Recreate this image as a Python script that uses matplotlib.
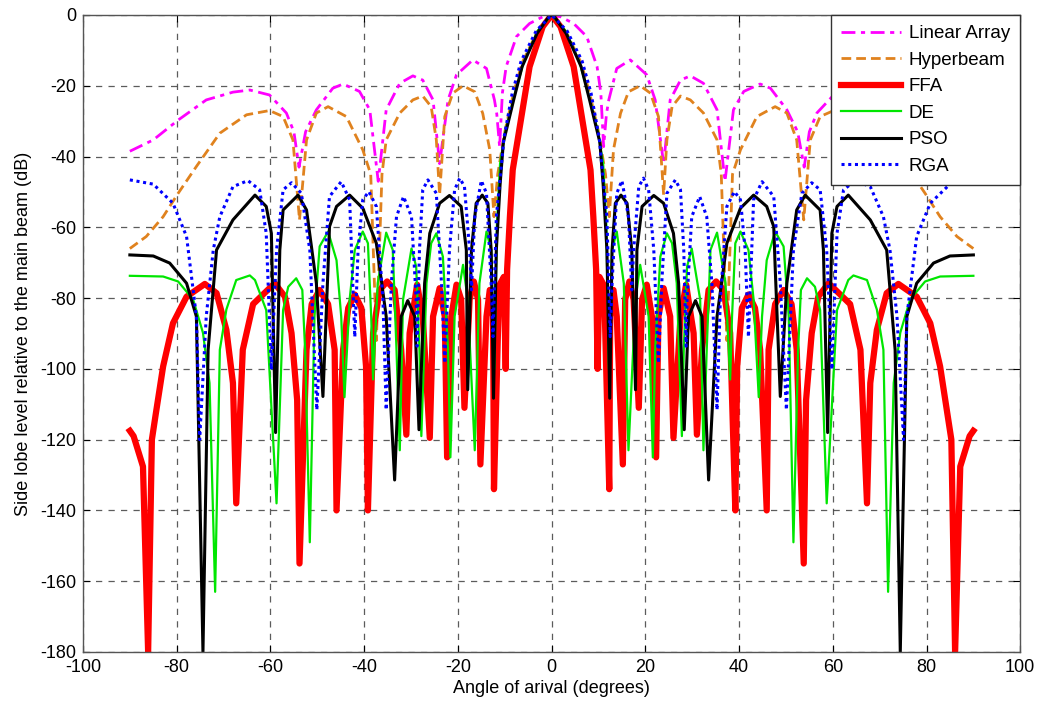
import numpy as np
import matplotlib.pyplot as plt

plt.rcParams['font.family'] = ['Liberation Sans', 'DejaVu Sans']
plt.rcParams['axes.unicode_minus'] = False

# half patterns (angle >= 0), the full pattern is symmetric about broadside
la_ang = [0, 1.9, 4.7, 7.5, 9.7, 10.5, 11.1, 11.7, 12.2, 13.9, 16.8, 20.3, 22.1, 23.9, 25.3,
          27.5, 29.6, 32.4, 35.3, 37.0, 38.8, 41.0, 44.5, 46.7, 50.2, 52.5, 53.9, 55.0, 56.6,
          60.2, 64.4, 68.0, 73.7, 79.7, 85.0, 90]
la_db = [0, -0.5, -2.4, -6.1, -14.6, -22, -37.2, -28, -24, -15.1, -12.7, -16.9, -24, -42, -24,
         -18.4, -17.2, -19.3, -26.8, -47, -26.8, -21.6, -19.5, -20.7, -26.8, -33, -43, -33, -27.7,
         -22.6, -21.2, -21.8, -24, -29.7, -35.3, -38.5]

hb_ang = [0, 3.1, 6.3, 8.1, 10.0, 11.5, 12.3, 13.2, 14.7, 16.4, 18.9, 21.1, 22.8, 23.9, 24.6,
          25.7, 27.5, 29.6, 32.4, 35.3, 36.2, 37.4, 38.6, 40.3, 43.8, 47.7, 50.2, 52.3, 53.8,
          55.2, 57.3, 60.2, 65.1, 70.8, 73.3, 75.8, 79.7, 82.9, 86.5, 90]
hb_db = [0, -4.8, -13.5, -22, -33, -45, -57, -38.1, -27.8, -21.7, -20, -22.1, -28.7, -50.8, -35.3,
         -25.9, -22.9, -24, -27.7, -35.3, -45, -92, -45, -38.1, -28.7, -25.9, -27.7, -35.3, -57.9,
         -35.3, -28.7, -27, -28.2, -33.4, -38.1, -42.8, -50.4, -57, -62.6, -66]

ffa_ang = [0, 1.9, 4.7, 8.3, 8.9, 9.5, 9.8, 10.2, 11.2, 12.3, 12.5, 13.2, 13.9, 15.2, 15.7, 16.6,
           17.5, 18.6, 19.3, 20.3, 21.4, 22.3, 22.8, 23.9, 25.3, 26.0, 27.5, 28.7, 30.3, 31.0,
           32.1, 33.5, 35.1, 36.7, 38.1, 39.2, 39.6, 40.6, 42.0, 43.4, 44.5, 45.9, 46.3, 47.7,
           49.5, 51.2, 52.3, 53.8, 54.3, 55.5, 56.9, 59.1, 63.7, 65.9, 67.3, 68.0, 69.4, 71.5,
           74.0, 77.9, 80.8, 82.9, 84.5, 85.3, 86.1, 87.2, 89.2, 90]
ffa_db = [0, -3.3, -14.6, -43.8, -57, -72, -100, -74, -76.5, -134, -85.2, -77.7, -85.2, -127, -80.4, -75.3,
          -80.4, -111, -80.4, -76.2, -85.2, -125, -85.2, -77.2, -85.2, -119.5, -85.2, -76.2, -89.9, -118.6,
          -94.6, -77.7, -75.3, -77.7, -89.9, -140, -99.3, -82.8, -79, -82.8, -94.6, -140, -94.6, -81.7,
          -77.7, -81.7, -94.6, -155, -108.8, -89.9, -79.6, -75.8, -81.7, -94.6, -138, -104, -89, -78.6,
          -76, -79.6, -87.1, -99.3, -113, -120, -180, -127.6, -119, -117.5]

de_ang = [0, 3.0, 6.0, 8.0, 9.9, 11.0, 11.7, 12.2, 12.9, 13.9, 15.4, 16.4, 17.9, 18.9, 20.7, 21.6,
          22.1, 23.2, 24.6, 25.7, 26.7, 27.8, 28.2, 28.9, 29.9, 31.7, 32.4, 33.1, 33.9, 35.3, 37.1,
          38.1, 38.5, 39.2, 40.3, 42.0, 43.1, 44.2, 44.9, 45.9, 47.7, 49.5, 50.6, 51.6, 52.6, 53.2,
          54.5, 56.2, 57.3, 58.7, 60.9, 63.3, 64.4, 67.3, 69.4, 70.8, 71.8, 73.0, 74.4, 76.5, 79.7,
          82.9, 90]
de_db = [0, -4.5, -13.5, -23, -33, -42, -60, -100, -66.4, -61.2, -75.8, -123, -80.4, -70.6, -85.2, -125,
         -94.6, -68.3, -61.7, -64.5, -75.8, -119, -94.6, -71.1, -66, -80.4, -123, -94.6, -66.4, -61.5, -75.8,
         -103, -85.2, -64.5, -61.2, -66.4, -80.4, -108, -85.2, -69.3, -61.2, -65.4, -85.2, -149, -94.6, -77.7,
         -74.4, -76.8, -83.4, -138, -83.4, -74.9, -73.6, -74.9, -83.2, -94.6, -163, -104, -89.8, -80.4, -75.3,
         -73.9, -73.7]

pso_ang = [0, 0.6, 3.1, 6.3, 8.1, 10.3, 11.0, 11.8, 12.4, 12.9, 13.6, 14.8, 16.1, 17.1, 17.9, 18.2,
           19.3, 21.8, 23.9, 26.0, 27.1, 28.3, 29.2, 30.7, 32.1, 33.5, 35.3, 37.4, 40.3, 43.1, 45.9,
           47.4, 47.7, 48.8, 50.2, 52.3, 54.1, 57.3, 58.0, 58.9, 59.8, 60.9, 63.3, 68.0, 71.5, 73.3,
           74.4, 75.8, 77.9, 81.5, 85.0, 90]
pso_db = [0, -0.5, -5.2, -14.6, -24, -36, -48, -66.4, -108.3, -66.4, -53.2, -50.9, -53.2, -66.4, -105.9, -66.4,
          -54.1, -51, -53.2, -61.7, -75.8, -117.2, -85.2, -80.7, -85.2, -131.4, -85.2, -64.5, -54.6, -50.9, -54.1,
          -59.8, -71.1, -107.8, -75.8, -55.1, -50.9, -55.1, -66.4, -118, -61.7, -54.1, -50.9, -57.9, -66.4, -94.6,
          -180, -85.2, -75.8, -70.1, -68.1, -67.8]

rga_ang = [0, 3.3, 6.5, 8.4, 10.2, 10.4, 11.8, 12.5, 12.9, 13.9, 15.0, 16.4, 17.1, 17.5, 18.6, 19.6,
           20.7, 21.8, 22.8, 23.5, 24.6, 26.4, 27.5, 28.2, 28.7, 28.9, 29.9, 31.6, 33.1, 34.2, 35.3,
           36.0, 37.4, 39.0, 40.3, 41.3, 42.0, 42.6, 43.1, 44.9, 47.4, 48.8, 50.1, 51.6, 53.4, 55.5,
           57.3, 58.7, 59.8, 60.9, 62.3, 64.8, 68.0, 70.8, 72.2, 73.7, 75.1, 75.8, 77.9, 80.8, 85.0, 90]
rga_db = [0, -4.5, -13, -22, -35, -38.1, -57, -90.9, -75.8, -50.4, -46.8, -57, -77.7, -66.4, -48.5, -46.1,
          -49.4, -66.4, -98.4, -75.8, -50.4, -46.6, -49.4, -66.4, -93.6, -80.4, -57, -51.3, -57, -75.8, -111.6,
          -80.4, -54.1, -49.9, -52.2, -66.4, -91, -70, -52.2, -47.1, -51.3, -75.8, -111.6, -66.4, -50.4, -47.4,
          -49.4, -66.4, -100.2, -61.7, -49.4, -46.8, -48.5, -57, -66.4, -85.2, -120, -85.2, -62.6, -53.2, -47.8, -46.6]

labels = ['Linear Array', 'Hyperbeam', 'FFA', 'DE', 'PSO', 'RGA']


def mirror(ang, db):
    # build the -90..90 pattern from the one-sided half
    ang = np.asarray(ang, dtype=float)
    db = np.asarray(db, dtype=float)
    x = np.concatenate([-ang[::-1], ang[1:]])
    y = np.concatenate([db[::-1], db[1:]])
    return x, y


fig = plt.figure(figsize=(10.4, 7.04), dpi=100)
ax = fig.add_axes([0.0798, 0.0739, 0.9012, 0.9048])

series = [
    (la_ang, la_db, dict(color='#ff00ff', ls=(0, (5, 2, 1.5, 2)), lw=2.0)),
    (hb_ang, hb_db, dict(color='#e0821e', ls=(0, (3.5, 1.8)), lw=2.0)),
    (ffa_ang, ffa_db, dict(color='#ff0000', ls='-', lw=4.5)),
    (de_ang, de_db, dict(color='#00e600', ls='-', lw=1.6)),
    (pso_ang, pso_db, dict(color='#000000', ls='-', lw=2.2)),
    (rga_ang, rga_db, dict(color='#0000ff', ls=(0, (1, 1.2)), lw=2.2)),
]
for (a, d, st), lab in zip(series, labels):
    x, y = mirror(a, d)
    ax.plot(x, y, label=lab, **st)

ax.set_xlim(-100, 100)
ax.set_ylim(-180, 0)
ax.set_xticks(np.arange(-100, 101, 20))
ax.set_yticks(np.arange(-180, 1, 20))
ax.grid(True, color='#333333', ls=(0, (5, 5)), lw=0.9, alpha=0.8)
ax.tick_params(direction='in', top=True, right=True, labelsize=13, length=5, pad=5)
for s in ax.spines.values():
    s.set_color('#555555')
    s.set_linewidth(1.0)

ax.set_xlabel('Angle of arival (degrees)', fontsize=13, labelpad=3)
ax.set_ylabel('Side lobe level relative to the main beam (dB)', fontsize=13, labelpad=6)

leg = ax.legend(loc='upper right', fontsize=13.5, handlelength=3.2, handletextpad=0.4,
                labelspacing=0.5, borderpad=0.55, borderaxespad=0.0, fancybox=False,
                framealpha=1.0, edgecolor='#333333')
leg.get_frame().set_linewidth(1.0)

fig.savefig('out.png', dpi=100)
